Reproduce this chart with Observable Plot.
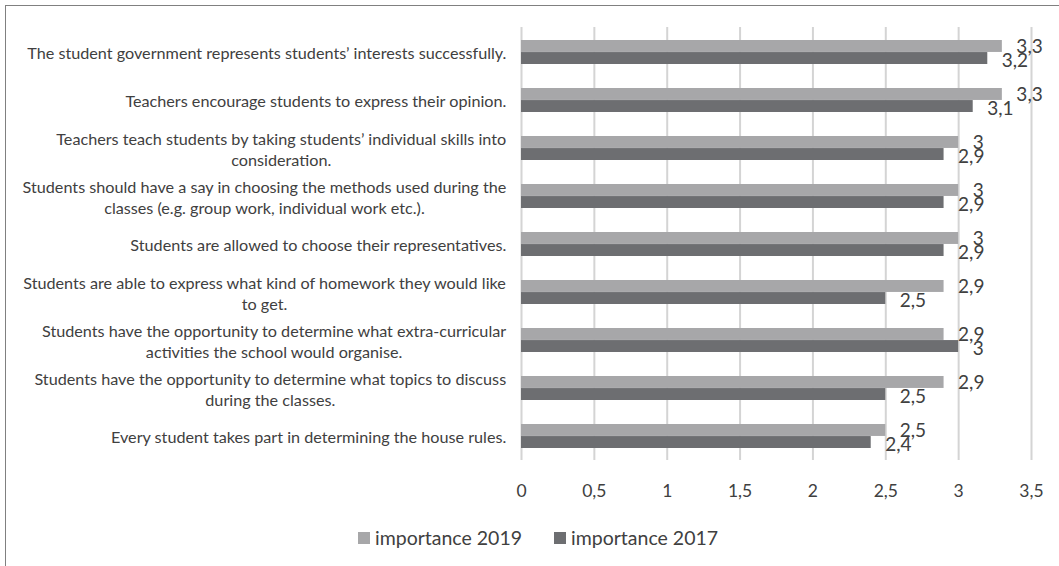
<!DOCTYPE html>
<html>
<head>
<meta charset="utf-8">
<script src="https://cdn.jsdelivr.net/npm/d3@7"></script>
<script src="https://cdn.jsdelivr.net/npm/@observablehq/plot@0.6"></script>
<style>
  html, body { margin: 0; padding: 0; background: #fff; overflow: hidden; }
  #wrap { position: relative; width: 1059px; height: 566px; overflow: hidden; font-family: Lato, "Open Sans", sans-serif; }
  #border { position: absolute; left: 5px; top: 5px; width: 1100px; height: 600px; border: 1.5px solid #808080; box-sizing: border-box; }
  #chart { position: absolute; left: 0; top: 0; }
  #legend { position: absolute; top: 526px; left: 358px; display: flex; align-items: center; font-size: 19.5px; color: #404040; white-space: nowrap; }
  .sw { display: inline-block; width: 12px; height: 12px; margin-right: 5px; }
  .item { display: flex; align-items: center; margin-right: 32px; }
</style>
</head>
<body>
<div id="wrap">
  <div id="border"></div>
  <div id="chart"></div>
  <div id="legend"></div>
</div>
<script>
const categories = [
  "The student government represents students’ interests successfully.",
  "Teachers encourage students to express their opinion.",
  "Teachers teach students by taking students’ individual skills into\nconsideration.",
  "Students should have a say in choosing the methods used during the\nclasses (e.g. group work, individual work etc.).",
  "Students are allowed to choose their representatives.",
  "Students are able to express what kind of homework they would like\nto get.",
  "Students have the opportunity to determine what extra-curricular\nactivities the school would organise.",
  "Students have the opportunity to determine what topics to discuss\nduring the classes.",
  "Every student takes part in determining the house rules."
];
const series = ["importance 2019", "importance 2017"];
const values2019 = [3.3, 3.3, 3, 3, 3, 2.9, 2.9, 2.9, 2.5];
const values2017 = [3.2, 3.1, 2.9, 2.9, 2.9, 2.5, 3, 2.5, 2.4];
const xTicks = [0, 0.5, 1, 1.5, 2, 2.5, 3, 3.5];
const colors = ["#a7a7a9", "#6d6e71"];

const W = 1059, H = 512;
const mTop = 27, mBottom = H - 460, mLeft = 521, mRight = 28;
const padInner = 0.5, padOuter = 0.24;
const step = (H - mTop - mBottom) / (categories.length - padInner + 2 * padOuter);
const bw = step * (1 - padInner);

const rows = categories.map((c, i) => ({cat: c, v19: values2019[i], v17: values2017[i]}));
const fmt = d => String(d).replace(".", ",");

const labelFont = 16.2;
const ctx = document.createElement("canvas").getContext("2d");
ctx.font = `${labelFont}px Lato`;
const labelMarks = categories.map(c => {
  const w = Math.max(...c.split("\n").map(s => ctx.measureText(s).width));
  return Plot.text([c], {
    y: d => d, text: d => d, frameAnchor: "left", textAnchor: "middle",
    dx: -(15 + w / 2), lineHeight: 1.3, fontSize: labelFont, fill: "#404040"
  });
});

const chart = Plot.plot({
  width: W, height: H,
  marginTop: mTop, marginBottom: mBottom, marginLeft: mLeft, marginRight: mRight,
  style: {fontFamily: "Lato, 'Open Sans', sans-serif", color: "#404040", background: "transparent"},
  x: {domain: [0, 3.5], ticks: xTicks, tickFormat: fmt, tickSize: 0, tickPadding: 24, label: null},
  y: {domain: categories, paddingInner: padInner, paddingOuter: padOuter, axis: null},
  marks: [
    Plot.ruleX(xTicks, {stroke: "#d4d4d4", strokeWidth: 2}),
    Plot.barX(rows, {y: "cat", x: "v19", fill: colors[0], insetBottom: bw / 2}),
    Plot.barX(rows, {y: "cat", x: "v17", fill: colors[1], insetTop: bw / 2}),
    Plot.text(rows, {y: "cat", x: "v19", text: d => fmt(d.v19), textAnchor: "start", dx: 14, dy: -6, fontSize: 19, fill: "#404040"}),
    Plot.text(rows, {y: "cat", x: "v17", text: d => fmt(d.v17), textAnchor: "start", dx: 14, dy: 8, fontSize: 19, fill: "#404040"}),
    ...labelMarks
  ]
});
chart.querySelectorAll("g[aria-label='x-axis tick label']").forEach(e => e.setAttribute("font-size", 17.5));
document.getElementById("chart").appendChild(chart);

const legend = document.getElementById("legend");
series.forEach((s, i) => {
  const it = document.createElement("div");
  it.className = "item";
  it.innerHTML = `<span class="sw" style="background:${colors[i]}"></span><span>${s}</span>`;
  legend.appendChild(it);
});
</script>
</body>
</html>
